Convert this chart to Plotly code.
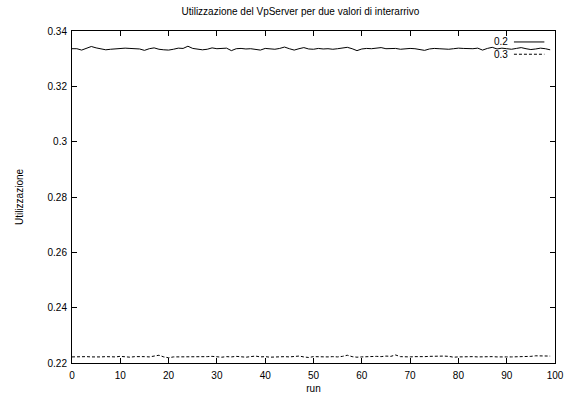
import plotly.graph_objects as go

runs = list(range(100))

util_02 = [
    0.3336, 0.3336, 0.3331, 0.3337, 0.3344, 0.3339, 0.3335, 0.3332, 0.3334, 0.3336,
    0.3337, 0.3338, 0.3337, 0.3335, 0.3335, 0.3330, 0.3336, 0.3339, 0.3334, 0.3332,
    0.3331, 0.3334, 0.3338, 0.3337, 0.3345, 0.3337, 0.3335, 0.3332, 0.3334, 0.3339,
    0.3336, 0.3337, 0.3338, 0.3329, 0.3336, 0.3337, 0.3335, 0.3336, 0.3333, 0.3331,
    0.3337, 0.3336, 0.3334, 0.3337, 0.3342, 0.3336, 0.3331, 0.3336, 0.3340, 0.3335,
    0.3334, 0.3337, 0.3335, 0.3336, 0.3334, 0.3336, 0.3338, 0.3341, 0.3336, 0.3329,
    0.3335, 0.3337, 0.3336, 0.3339, 0.3340, 0.3336, 0.3336, 0.3337, 0.3334, 0.3336,
    0.3337, 0.3336, 0.3334, 0.3330, 0.3335, 0.3337, 0.3336, 0.3334, 0.3334, 0.3336,
    0.3338, 0.3337, 0.3336, 0.3336, 0.3338, 0.3331, 0.3337, 0.3341, 0.3335, 0.3338,
    0.3336, 0.3334, 0.3337, 0.3340, 0.3336, 0.3333, 0.3335, 0.3338, 0.3336, 0.3332,
]

util_03 = [
    0.2222, 0.2223, 0.2222, 0.2223, 0.2222, 0.2221, 0.2222, 0.2223, 0.2222, 0.2222,
    0.2224, 0.2222, 0.2221, 0.2223, 0.2224, 0.2223, 0.2222, 0.2224, 0.2228, 0.2222,
    0.2219, 0.2222, 0.2222, 0.2223, 0.2221, 0.2222, 0.2223, 0.2222, 0.2223, 0.2224,
    0.2223, 0.2221, 0.2223, 0.2222, 0.2224, 0.2222, 0.2221, 0.2223, 0.2225, 0.2222,
    0.2223, 0.2221, 0.2222, 0.2224, 0.2223, 0.2222, 0.2223, 0.2225, 0.2222, 0.2220,
    0.2223, 0.2222, 0.2222, 0.2222, 0.2223, 0.2222, 0.2224, 0.2228, 0.2223, 0.2221,
    0.2222, 0.2223, 0.2222, 0.2224, 0.2223, 0.2225, 0.2224, 0.2229, 0.2223, 0.2222,
    0.2222, 0.2223, 0.2222, 0.2223, 0.2224, 0.2225, 0.2226, 0.2225, 0.2224, 0.2221,
    0.2222, 0.2223, 0.2222, 0.2223, 0.2222, 0.2223, 0.2222, 0.2223, 0.2222, 0.2221,
    0.2222, 0.2222, 0.2222, 0.2223, 0.2222, 0.2224, 0.2226, 0.2226, 0.2225, 0.2225,
]

series_names = ["0.2", "0.3"]
x_ticks = list(range(0, 101, 10))
y_ticks = [0.22, 0.24, 0.26, 0.28, 0.30, 0.32, 0.34]

FONT = "Liberation Sans, Arial, Helvetica, sans-serif"

fig = go.Figure()
fig.add_trace(go.Scatter(x=runs, y=util_02, mode="lines", name=series_names[0],
                         line=dict(color="black", width=1), showlegend=False))
fig.add_trace(go.Scatter(x=runs, y=util_03, mode="lines", name=series_names[1],
                         line=dict(color="black", width=1, dash="3px,2px"), showlegend=False))

axis_common = dict(
    showgrid=False, zeroline=False, showline=True, linecolor="black", linewidth=1,
    mirror="ticks", ticks="inside", ticklen=5, tickcolor="black", tickwidth=1,
    tickfont=dict(family=FONT, size=10, color="black"), automargin=False,
)

fig.update_xaxes(range=[0, 100], tickvals=x_ticks, ticktext=[str(v) for v in x_ticks],
                 ticklabelstandoff=3,
                 title=dict(text="run", font=dict(family=FONT, size=10, color="black"), standoff=4),
                 **axis_common)
fig.update_yaxes(range=[0.22, 0.34], tickvals=y_ticks, ticktext=[f"{v:g}" for v in y_ticks],
                 ticklabelstandoff=2,
                 title=dict(text="Utilizzazione", font=dict(family=FONT, size=10, color="black"), standoff=22),
                 **axis_common)

# key in the upper-right corner: label to the left of a line sample
legend_y = [0.967, 0.930]
legend_dash = ["solid", "3px,2px"]
for name, ly, dash in zip(series_names, legend_y, legend_dash):
    fig.add_annotation(xref="paper", yref="paper", x=0.906, y=ly, text=name,
                       showarrow=False, xanchor="right", yanchor="middle",
                       font=dict(family=FONT, size=10, color="black"))
    fig.add_shape(type="line", xref="paper", yref="paper", x0=0.915, x1=0.978,
                  y0=ly, y1=ly, line=dict(color="black", width=1, dash=dash))

fig.update_layout(
    width=576, height=399,
    margin=dict(l=72, r=21, t=31, b=36),
    paper_bgcolor="white", plot_bgcolor="white",
    title=dict(text="Utilizzazione del VpServer per due valori di interarrivo",
               x=0.5215, xanchor="center", y=0.97, yanchor="middle",
               font=dict(family=FONT, size=10, color="black")),
)

fig.write_html("out.html")
